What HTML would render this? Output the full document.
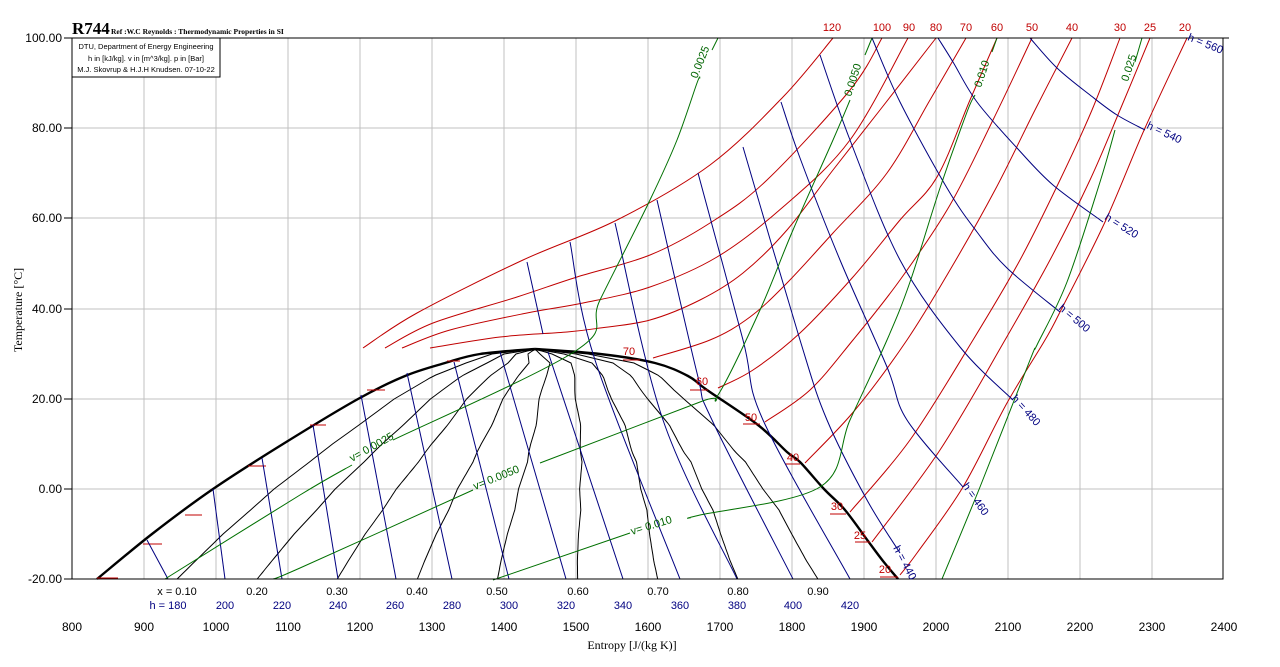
<!DOCTYPE html>
<html><head><meta charset="utf-8"><style>
html,body{margin:0;padding:0;background:#fff}
svg{display:block}
text{font-family:"Liberation Sans",sans-serif}
.r{fill:#c00000;font-size:11px}
.b{fill:#000080;font-size:11px}
.g{fill:#006400;font-size:11px}
.k{fill:#000;font-size:11px}
</style></head><body>
<svg id="s" width="1280" height="667" viewBox="0 0 1280 667" xmlns="http://www.w3.org/2000/svg">
<rect width="1280" height="667" fill="#fff"/>
<g id="grid" stroke="#c0c0c0" stroke-width="1"></g>
<g id="curves" fill="none"></g>
<rect x="72" y="38" width="1151" height="541" fill="none" stroke="#000" stroke-width="1"/>
<line x1="64" y1="38" x2="72" y2="38" stroke="#000"/><line x1="64" y1="128" x2="72" y2="128" stroke="#000"/>
<line x1="64" y1="218" x2="72" y2="218" stroke="#000"/><line x1="64" y1="309" x2="72" y2="309" stroke="#000"/>
<line x1="64" y1="399" x2="72" y2="399" stroke="#000"/><line x1="64" y1="489" x2="72" y2="489" stroke="#000"/>
<line x1="64" y1="579" x2="72" y2="579" stroke="#000"/>
<line x1="1223" y1="38" x2="1229" y2="38" stroke="#000"/>
<!-- header -->
<text x="72" y="34" style="font-family:'Liberation Serif',serif;font-size:17px;font-weight:bold">R744</text>
<text x="111" y="34" style="font-family:'Liberation Serif',serif;font-size:7.5px;font-weight:bold">Ref :W.C Reynolds : Thermodynamic Properties in SI</text>
<rect x="72" y="38" width="148" height="39" fill="#fff" stroke="#000"/>
<g style="font-family:'Liberation Serif',serif;font-size:7.5px" text-anchor="middle">
<text x="146" y="49">DTU, Department of Energy Engineering</text>
<text x="146" y="61">h in [kJ/kg]. v in [m^3/kg]. p in [Bar]</text>
<text x="146" y="72">M.J. Skovrup &amp; H.J.H Knudsen. 07-10-22</text>
</g>
<!-- y axis labels -->
<g class="k" text-anchor="end" style="font-size:12px">
<text x="62" y="42">100.00</text><text x="62" y="132">80.00</text><text x="62" y="222">60.00</text>
<text x="62" y="313">40.00</text><text x="62" y="403">20.00</text><text x="62" y="493">0.00</text><text x="62" y="583">-20.00</text>
</g>
<text transform="translate(22,310) rotate(-90)" text-anchor="middle" style="font-size:12px;font-family:'Liberation Serif',serif">Temperature [°C]</text>
<!-- x axis labels -->
<g text-anchor="middle" style="font-size:12px">
<text x="72" y="631">800</text><text x="144" y="631">900</text><text x="216" y="631">1000</text><text x="288" y="631">1100</text>
<text x="360" y="631">1200</text><text x="432" y="631">1300</text><text x="504" y="631">1400</text><text x="576" y="631">1500</text>
<text x="648" y="631">1600</text><text x="720" y="631">1700</text><text x="792" y="631">1800</text><text x="864" y="631">1900</text>
<text x="936" y="631">2000</text><text x="1008" y="631">2100</text><text x="1080" y="631">2200</text><text x="1152" y="631">2300</text>
<text x="1224" y="631">2400</text>
</g>
<text x="632" y="649" text-anchor="middle" style="font-size:12px;font-family:'Liberation Serif',serif">Entropy [J/(kg K)]</text>
<g class="k" text-anchor="middle" style="font-size:11px">
<text x="177" y="595">x = 0.10</text><text x="257" y="595">0.20</text><text x="337" y="595">0.30</text><text x="417" y="595">0.40</text>
<text x="497" y="595">0.50</text><text x="578" y="595">0.60</text><text x="658" y="595">0.70</text><text x="738" y="595">0.80</text><text x="818" y="595">0.90</text>
</g>
<g class="b" text-anchor="middle">
<text x="168" y="609">h = 180</text><text x="225" y="609">200</text><text x="282" y="609">220</text><text x="338" y="609">240</text>
<text x="395" y="609">260</text><text x="452" y="609">280</text><text x="509" y="609">300</text><text x="566" y="609">320</text>
<text x="623" y="609">340</text><text x="680" y="609">360</text><text x="737" y="609">380</text><text x="793" y="609">400</text><text x="850" y="609">420</text>
</g>
<g class="r" text-anchor="middle">
<text x="832" y="31">120</text><text x="882" y="31">100</text><text x="909" y="31">90</text><text x="936" y="31">80</text>
<text x="966" y="31">70</text><text x="997" y="31">60</text><text x="1032" y="31">50</text><text x="1072" y="31">40</text>
<text x="1120" y="31">30</text><text x="1150" y="31">25</text><text x="1185" y="31">20</text>
<text x="629" y="355">70</text><text x="702" y="385">60</text><text x="751" y="421">50</text><text x="793" y="461">40</text>
<text x="837" y="510">30</text><text x="860" y="539">25</text><text x="885" y="573">20</text>
</g>
<g class="b">
<text transform="translate(893,548) rotate(62)">h = 440</text>
<text transform="translate(962,486) rotate(55)">h = 460</text>
<text transform="translate(1011,399) rotate(48)">h = 480</text>
<text transform="translate(1058,309) rotate(40)">h = 500</text>
<text transform="translate(1104,219) rotate(32)">h = 520</text>
<text transform="translate(1146,128) rotate(25)">h = 540</text>
<text transform="translate(1187,40) rotate(22)">h = 560</text>
</g>
<g class="g">
<text transform="translate(352,462) rotate(-29)">v= 0.0025</text>
<text transform="translate(475,490) rotate(-22)">v= 0.0050</text>
<text transform="translate(632,535) rotate(-17)">v= 0.010</text>
<text transform="translate(697,79) rotate(-68)">0.0025</text>
<text transform="translate(851,97) rotate(-72)">0.0050</text>
<text transform="translate(981,88) rotate(-72)">0.010</text>
<text transform="translate(1128,82) rotate(-72)">0.025</text>
</g>
</svg>
<script>
(function(){
var NS="http://www.w3.org/2000/svg";
var grid=document.getElementById('grid'),cv=document.getElementById('curves');
function el(p,tag,a){var e=document.createElementNS(NS,tag);for(var k in a)e.setAttribute(k,a[k]);p.appendChild(e);return e;}
for(var i=1;i<16;i++){var x=72+i*72;el(grid,'line',{x1:x,y1:38,x2:x,y2:579});}
[128,218,309,399,489].forEach(function(y){el(grid,'line',{x1:72,y1:y,x2:1223,y2:y});});
function cr(p){ // catmull-rom path
 if(p.length<3){return 'M'+p.map(function(q){return q.join(',')}).join('L');}
 var d='M'+p[0][0]+','+p[0][1];
 for(var i=0;i<p.length-1;i++){var p0=p[i-1]||p[i],p1=p[i],p2=p[i+1],p3=p[i+2]||p2;
  var c1=[p1[0]+(p2[0]-p0[0])/6,p1[1]+(p2[1]-p0[1])/6],c2=[p2[0]-(p3[0]-p1[0])/6,p2[1]-(p3[1]-p1[1])/6];
  d+='C'+c1[0].toFixed(1)+','+c1[1].toFixed(1)+' '+c2[0].toFixed(1)+','+c2[1].toFixed(1)+' '+p2[0]+','+p2[1];}
 return d;}
function line(p,c,w){el(cv,'path',{d:cr(p),stroke:c,'stroke-width':w||1});}
var L=[[579,97],[534,152],[489,213],[444,283],[399,358],[376,405],[363,445],[354,480],[349,535]];
var R=[[579,898],[561,883],[541,868],[510,845],[489,824],[462,800],[452,787],[425,758],[390,707],[376,688],[363,655],[354,600],[349,535]];
function interp(t,y){for(var i=0;i<t.length-1;i++){if(y<=t[i][0]&&y>=t[i+1][0]){var f=(t[i][0]-y)/(t[i][0]-t[i+1][0]);return t[i][1]+f*(t[i+1][1]-t[i][1]);}}return t[t.length-1][1];}
// quality lines
for(var q=1;q<=9;q++){var pts=[];for(var y=579;y>=350;y-=3){var a=interp(L,y),b=interp(R,y);pts.push([(a+(q/10)*(b-a)).toFixed(1),y]);}
 pts.push([535,349.5]);el(cv,'polyline',{points:pts.map(function(p){return p.join(',')}).join(' '),stroke:'#000','stroke-width':1});}
// dome
line(L.map(function(p){return [p[1],p[0]]}),'#000',2.4);
line(R.map(function(p){return [p[1],p[0]]}),'#000',2.4);
// red ticks on dome
[[97,118,578],[143,162,544],[185,202,515],[248,266,466],[310,326,425],[367,385,390],[447,460,361],[623,640,360],[690,708,390],[743,760,424],[785,800,464],[830,846,514],[855,870,542],[880,898,577]].forEach(function(t){el(cv,'line',{x1:t[0],y1:t[2],x2:t[1],y2:t[2],stroke:'#c00000'});});
// isobars
var RED='#c00000';
[
[[363,348],[417,313],[523,260],[617,220],[710,165],[783,97],[833,38]],
[[385,348],[433,323],[517,297],[577,277],[650,255],[710,223],[767,180],[850,90],[882,38]],
[[402,348],[450,330],[527,313],[583,303],[650,287],[717,257],[783,207],[850,140],[908,38]],
[[430,348],[500,337],[567,332],[600,328],[650,320],[700,300],[743,273],[787,230],[833,170],[880,110],[936,38]],
[[653,358],[710,340],[750,317],[787,283],[833,233],[887,173],[930,100],[966,38]],
[[718,388],[753,370],[800,333],[853,277],[900,220],[937,177],[970,100],[997,38]],
[[765,422],[810,390],[853,340],[900,280],[950,205],[993,120],[1032,38]],
[[805,463],[855,410],[907,340],[950,270],[995,190],[1035,110],[1072,38]],
[[850,512],[910,440],[973,340],[1020,260],[1060,180],[1092,110],[1120,38]],
[[872,542],[940,450],[1005,340],[1050,260],[1090,180],[1120,110],[1150,38]],
[[900,575],[917,553],[963,487],[1007,403],[1045,340],[1060,312],[1105,222],[1145,128],[1187,38]]
].forEach(function(p){line(p,RED);});
// isenthalps
var BL='#000080';
[
[[147,540],[168,579]],[[213,489],[225,579]],[[262,458],[282,579]],[[313,425],[338,579]],[[361,395],[396,579]],
[[407,373],[452,579]],[[454,362],[509,579]],[[500,352],[566,579]],
[[527,262],[543,334]],[[548,352],[623,579]],
[[570,242],[595,360],[680,579]],
[[615,223],[663,420],[737,579]],
[[657,200],[697,373],[712,420],[793,579]],
[[698,173],[743,340],[763,420],[850,579]],
[[743,147],[800,340],[827,420],[867,500],[900,553]],
[[781,102],[800,158],[840,260],[887,367],[907,420],[963,487]],
[[820,55],[850,140],[900,260],[960,347],[1013,400]],
[[872,38],[900,102],[947,188],[977,232],[1007,268],[1060,312]],
[[938,38],[953,62],[977,102],[1017,148],[1053,185],[1103,222]],
[[1030,38],[1057,68],[1090,95],[1117,115],[1145,130]]
].forEach(function(p){line(p,BL);});
// specific volume
var GR='#007000';
[
[[165,579],[300,495],[352,465]],[[393,440],[577,350],[600,300],[650,200],[677,140],[697,83],[700,78]],[[712,50],[718,38]],
[[273,579],[300,568],[473,490]],[[540,463],[700,402],[718,395],[760,310],[793,230],[833,140],[850,100]],[[865,55],[872,38]],
[[493,580],[630,533]],[[690,518],[700,515],[820,487],[850,420],[887,340],[910,282],[940,188],[967,112],[975,95]],[[992,52],[997,38]],
[[942,579],[980,487],[1030,360],[1037,345],[1067,282],[1100,182],[1115,130]],[[1135,62],[1142,38]]
].forEach(function(p){line(p,GR);});
})();
</script>
</body></html>
